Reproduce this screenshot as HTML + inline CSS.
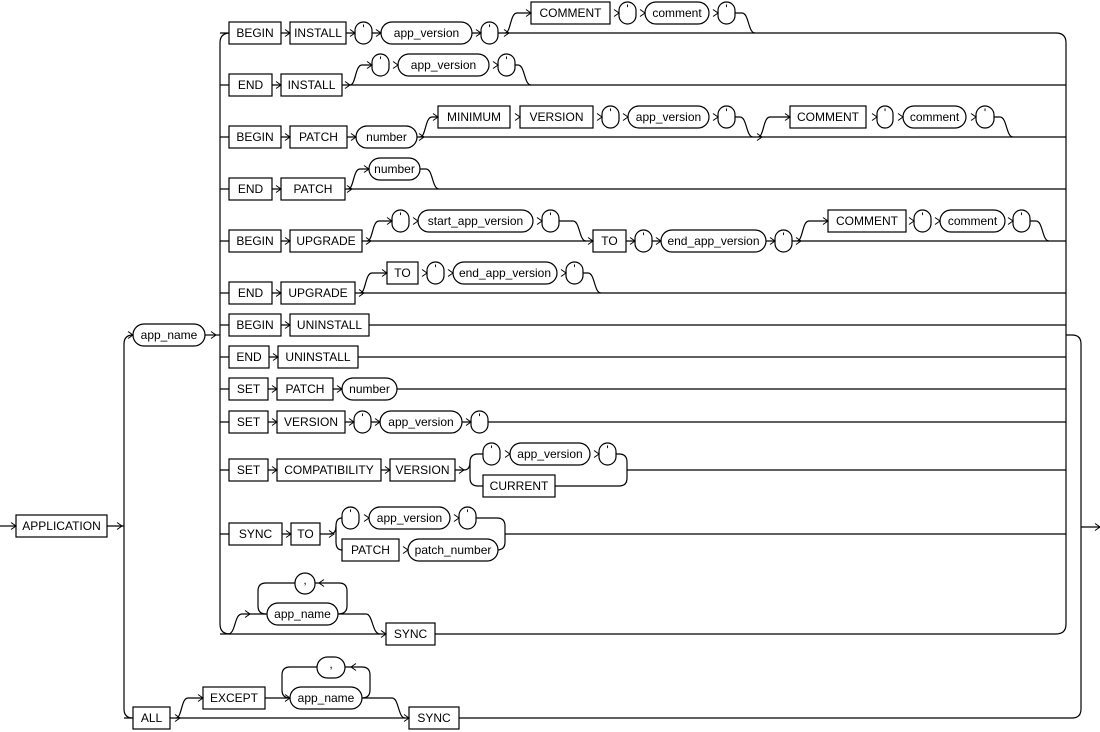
<!DOCTYPE html>
<html><head><meta charset="utf-8"><style>
html,body{margin:0;padding:0;background:#fff;}
svg{display:block;}
text{font-family:"Liberation Sans",sans-serif;font-size:12px;text-anchor:middle;fill:#000;}
</style></head><body>
<svg width="1100" height="732" viewBox="0 0 1100 732" xmlns="http://www.w3.org/2000/svg">
<defs>
<path id="c" d="M-5,-3.5 L0,0 L-5,3.5" fill="none" stroke="#000" stroke-width="1"/>
</defs>
<g fill="none" stroke="#000" stroke-width="1.2">
<!-- entry -->
<path d="M0,526 H16"/>
<path d="M107,526 H124"/>
<!-- outer left bus -->
<path d="M133,335 Q124,335 124,344 V709 Q124,718 133,718"/>
<path d="M205,335 H220"/>
<!-- inner left bus -->
<path d="M230,33 Q220,33 220,43 V624 Q220,634 230,634"/>
<!-- inner right bus -->
<path d="M1056,33 Q1066,33 1066,43 V624 Q1066,634 1056,634"/>
<path d="M1066,335 H1072 Q1081,335 1081,344 V709 Q1081,718 1072,718"/>
<path d="M1081,527 H1100"/>
<!-- row lines -->
<path d="M220,33 H1056"/>
<path d="M220,85 H1066"/>
<path d="M220,137 H1066"/>
<path d="M220,189 H1066"/>
<path d="M220,241 H1066"/>
<path d="M220,293 H1066"/>
<path d="M220,325 H1066"/>
<path d="M220,357 H1066"/>
<path d="M220,389 H1066"/>
<path d="M220,422 H1066"/>
<path d="M220,470 H464"/>
<path d="M627,470 H1066"/>
<path d="M220,534 H332"/>
<path d="M505,534 H1066"/>
<path d="M220,634 H1056"/>
<path d="M124,718 H1072"/>
<!-- row1 optional -->
<path d="M505,33 C511,33 510,13 517,13 H531"/>
<path d="M735,13 H742 C749,13 748,33 755,33"/>
<!-- row2 optional -->
<path d="M350,85 C356,85 355,65 362,65 H372"/>
<path d="M515,65 H518 C525,65 524,85 531,85"/>
<!-- row3 optional -->
<path d="M420,137 C426,137 425,117 432,117 H438"/>
<path d="M735,117 H740 C747,117 746,137 753,137"/>
<path d="M758,137 C764,137 763,117 770,117 H790"/>
<path d="M994,117 H1000 C1007,117 1006,137 1013,137"/>
<!-- row4 optional -->
<path d="M348,189 C354,189 353,169 360,169 H369"/>
<path d="M420,169 H426 C433,169 432,189 439,189"/>
<!-- row5 optional -->
<path d="M367,241 C373,241 372,221 379,221 H392"/>
<path d="M559,221 H573 C580,221 579,241 586,241"/>
<path d="M797,241 C803,241 802,221 809,221 H828"/>
<path d="M1030,221 H1036 C1043,221 1042,241 1049,241"/>
<!-- row6 optional -->
<path d="M360,293 C366,293 365,273 372,273 H387"/>
<path d="M583,273 H588 C595,273 594,293 601,293"/>
<!-- row11 choice -->
<path d="M464,470 Q470,470 470,462 Q470,454 478,454 H483"/>
<path d="M470,462 V478 Q470,486 478,486 H483"/>
<path d="M616,454 H619 Q627,454 627,462 V478 Q627,486 619,486 H555"/>
<!-- row12 choice -->
<path d="M330,534 Q336,534 336,526 Q336,518 342,518"/>
<path d="M336,526 V542 Q336,550 342,550"/>
<path d="M476,518 H497 Q505,518 505,526 V542 Q505,550 497,550"/>
<!-- row13 loop -->
<path d="M228,634 C236,634 234,614 242,614 H267"/>
<path d="M338,614 H366 C373,614 372,634 380,634"/>
<path d="M338,614 Q347,614 347,606 V591 Q347,583 339,583 H315"/>
<path d="M295,583 H266 Q258,583 258,591 V606 Q258,614 266,614"/>
<!-- ALL optional -->
<path d="M176,718 C182,718 181,698 188,698 H203"/>
<path d="M265,698 H290"/>
<path d="M362,698 H392 C399,698 398,718 405,718"/>
<path d="M362,698 Q370,698 370,690 V675 Q370,667 362,667 H345"/>
<path d="M317,667 H290 Q282,667 282,675 V690 Q282,698 290,698"/>
</g>
<!-- nodes -->
<g fill="#fff" stroke="#000" stroke-width="1.2">
<rect x="16" y="515" width="91" height="22"/>
<rect x="133" y="324" width="72" height="22" rx="11"/>
<!-- row1 -->
<rect x="229" y="22" width="52" height="22"/>
<rect x="290" y="22" width="56" height="22"/>
<rect x="355" y="22" width="17" height="22" rx="8.5"/>
<rect x="381" y="22" width="91" height="22" rx="11"/>
<rect x="481" y="22" width="17" height="22" rx="8.5"/>
<rect x="531" y="2" width="79" height="22"/>
<rect x="619" y="2" width="17" height="22" rx="8.5"/>
<rect x="645" y="2" width="64" height="22" rx="11"/>
<rect x="718" y="2" width="17" height="22" rx="8.5"/>
<!-- row2 -->
<rect x="229" y="74" width="43" height="22"/>
<rect x="281" y="74" width="61" height="22"/>
<rect x="372" y="54" width="17" height="22" rx="8.5"/>
<rect x="398" y="54" width="91" height="22" rx="11"/>
<rect x="498" y="54" width="17" height="22" rx="8.5"/>
<!-- row3 -->
<rect x="229" y="126" width="52" height="22"/>
<rect x="290" y="126" width="57" height="22"/>
<rect x="356" y="126" width="61" height="22" rx="11"/>
<rect x="438" y="106" width="72" height="22"/>
<rect x="520" y="106" width="73" height="22"/>
<rect x="602" y="106" width="17" height="22" rx="8.5"/>
<rect x="628" y="106" width="81" height="22" rx="11"/>
<rect x="718" y="106" width="17" height="22" rx="8.5"/>
<rect x="790" y="106" width="76" height="22"/>
<rect x="877" y="106" width="16" height="22" rx="8"/>
<rect x="903" y="106" width="63" height="22" rx="11"/>
<rect x="976" y="106" width="18" height="22" rx="9"/>
<!-- row4 -->
<rect x="229" y="178" width="43" height="22"/>
<rect x="281" y="178" width="64" height="22"/>
<rect x="369" y="158" width="51" height="22" rx="11"/>
<!-- row5 -->
<rect x="229" y="230" width="52" height="22"/>
<rect x="290" y="230" width="72" height="22"/>
<rect x="392" y="210" width="17" height="22" rx="8.5"/>
<rect x="418" y="210" width="115" height="22" rx="11"/>
<rect x="542" y="210" width="17" height="22" rx="8.5"/>
<rect x="593" y="230" width="33" height="22"/>
<rect x="635" y="230" width="17" height="22" rx="8.5"/>
<rect x="661" y="230" width="105" height="22" rx="11"/>
<rect x="775" y="230" width="17" height="22" rx="8.5"/>
<rect x="828" y="210" width="78" height="22"/>
<rect x="914" y="210" width="17" height="22" rx="8.5"/>
<rect x="940" y="210" width="65" height="22" rx="11"/>
<rect x="1013" y="210" width="17" height="22" rx="8.5"/>
<!-- row6 -->
<rect x="229" y="282" width="43" height="22"/>
<rect x="281" y="282" width="74" height="22"/>
<rect x="387" y="262" width="31" height="22"/>
<rect x="427" y="262" width="17" height="22" rx="8.5"/>
<rect x="453" y="262" width="104" height="22" rx="11"/>
<rect x="566" y="262" width="17" height="22" rx="8.5"/>
<!-- row7-8 -->
<rect x="229" y="314" width="52" height="22"/>
<rect x="290" y="314" width="79" height="22"/>
<rect x="229" y="346" width="40" height="22"/>
<rect x="278" y="346" width="80" height="22"/>
<!-- row9 -->
<rect x="229" y="378" width="39" height="22"/>
<rect x="277" y="378" width="56" height="22"/>
<rect x="342" y="378" width="55" height="22" rx="11"/>
<!-- row10 -->
<rect x="229" y="411" width="39" height="22"/>
<rect x="277" y="411" width="68" height="22"/>
<rect x="354" y="411" width="17" height="22" rx="8.5"/>
<rect x="380" y="411" width="82" height="22" rx="11"/>
<rect x="471" y="411" width="17" height="22" rx="8.5"/>
<!-- row11 -->
<rect x="229" y="459" width="39" height="22"/>
<rect x="277" y="459" width="104" height="22"/>
<rect x="390" y="459" width="65" height="22"/>
<rect x="483" y="443" width="17" height="22" rx="8.5"/>
<rect x="510" y="443" width="80" height="22" rx="11"/>
<rect x="599" y="443" width="17" height="22" rx="8.5"/>
<rect x="483" y="475" width="72" height="22"/>
<!-- row12 -->
<rect x="229" y="523" width="53" height="22"/>
<rect x="291" y="523" width="29" height="22"/>
<rect x="342" y="507" width="17" height="22" rx="8.5"/>
<rect x="369" y="507" width="81" height="22" rx="11"/>
<rect x="459" y="507" width="17" height="22" rx="8.5"/>
<rect x="342" y="539" width="57" height="22"/>
<rect x="408" y="539" width="90" height="22" rx="11"/>
<!-- row13 -->
<rect x="267" y="603" width="71" height="22" rx="11"/>
<rect x="295" y="573" width="20" height="21" rx="10"/>
<rect x="386" y="623" width="49" height="22"/>
<!-- ALL -->
<rect x="133" y="707" width="37" height="22"/>
<rect x="203" y="687" width="62" height="22"/>
<rect x="290" y="687" width="72" height="22" rx="11"/>
<rect x="317" y="657" width="28" height="21" rx="10.5"/>
<rect x="409" y="707" width="50" height="22"/>
</g>
<!-- chevrons -->
<g>
<use href="#c" x="16" y="526"/><use href="#c" x="122" y="526"/><use href="#c" x="133" y="335"/><use href="#c" x="216" y="335"/>
<use href="#c" x="290" y="33"/><use href="#c" x="355" y="33"/><use href="#c" x="381" y="33"/><use href="#c" x="481" y="33"/><use href="#c" x="509" y="33"/>
<use href="#c" x="531" y="13"/><use href="#c" x="619" y="13"/><use href="#c" x="645" y="13"/><use href="#c" x="718" y="13"/>
<use href="#c" x="281" y="85"/><use href="#c" x="350" y="85"/><use href="#c" x="372" y="65"/><use href="#c" x="398" y="65"/><use href="#c" x="498" y="65"/>
<use href="#c" x="290" y="137"/><use href="#c" x="356" y="137"/><use href="#c" x="424" y="137"/><use href="#c" x="438" y="117"/><use href="#c" x="520" y="117"/><use href="#c" x="602" y="117"/><use href="#c" x="628" y="117"/><use href="#c" x="718" y="117"/><use href="#c" x="762" y="137"/><use href="#c" x="790" y="117"/><use href="#c" x="877" y="117"/><use href="#c" x="903" y="117"/><use href="#c" x="976" y="117"/>
<use href="#c" x="281" y="189"/><use href="#c" x="352" y="189"/><use href="#c" x="369" y="169"/>
<use href="#c" x="290" y="241"/><use href="#c" x="371" y="241"/><use href="#c" x="392" y="221"/><use href="#c" x="418" y="221"/><use href="#c" x="542" y="221"/><use href="#c" x="593" y="241"/><use href="#c" x="635" y="241"/><use href="#c" x="661" y="241"/><use href="#c" x="775" y="241"/><use href="#c" x="801" y="241"/><use href="#c" x="828" y="221"/><use href="#c" x="914" y="221"/><use href="#c" x="940" y="221"/><use href="#c" x="1013" y="221"/>
<use href="#c" x="281" y="293"/><use href="#c" x="364" y="293"/><use href="#c" x="387" y="273"/><use href="#c" x="427" y="273"/><use href="#c" x="453" y="273"/><use href="#c" x="566" y="273"/>
<use href="#c" x="290" y="325"/><use href="#c" x="278" y="357"/>
<use href="#c" x="277" y="389"/><use href="#c" x="342" y="389"/>
<use href="#c" x="277" y="422"/><use href="#c" x="354" y="422"/><use href="#c" x="380" y="422"/><use href="#c" x="471" y="422"/>
<use href="#c" x="277" y="470"/><use href="#c" x="390" y="470"/><use href="#c" x="464" y="470"/><use href="#c" x="510" y="454"/><use href="#c" x="599" y="454"/>
<use href="#c" x="291" y="534"/><use href="#c" x="334" y="534"/><use href="#c" x="369" y="518"/><use href="#c" x="459" y="518"/><use href="#c" x="408" y="550"/>
<use href="#c" x="250" y="614"/><use href="#c" x="386" y="634"/>
<use href="#c" x="180" y="718"/><use href="#c" x="203" y="698"/><use href="#c" x="290" y="698"/><use href="#c" x="409" y="718"/>
<use href="#c" x="1100" y="527"/>
</g>
<path d="M310,579.5 L315,583 L310,586.5" fill="none" stroke="#000" transform="rotate(180 317 583)"/>
<path d="M340,663.5 L345,667 L340,670.5" fill="none" stroke="#000" transform="rotate(180 348 667)"/>
<!-- labels -->
<g>
<text x="61.5" y="530">APPLICATION</text>
<text x="169" y="339">app_name</text>
<text x="255" y="37">BEGIN</text><text x="318" y="37">INSTALL</text><text x="363.5" y="33">'</text><text x="426.5" y="37">app_version</text><text x="489.5" y="33">'</text>
<text x="570.5" y="17">COMMENT</text><text x="627.5" y="13">'</text><text x="677" y="17">comment</text><text x="726.5" y="13">'</text>
<text x="250.5" y="89">END</text><text x="311.5" y="89">INSTALL</text><text x="380.5" y="65">'</text><text x="443.5" y="69">app_version</text><text x="506.5" y="65">'</text>
<text x="255" y="141">BEGIN</text><text x="318.5" y="141">PATCH</text><text x="386.5" y="141">number</text><text x="474" y="121">MINIMUM</text><text x="556.5" y="121">VERSION</text><text x="610.5" y="117">'</text><text x="668.5" y="121">app_version</text><text x="726.5" y="117">'</text>
<text x="828" y="121">COMMENT</text><text x="885" y="117">'</text><text x="934.5" y="121">comment</text><text x="985" y="117">'</text>
<text x="250.5" y="193">END</text><text x="313" y="193">PATCH</text><text x="394.5" y="173">number</text>
<text x="255" y="245">BEGIN</text><text x="326" y="245">UPGRADE</text><text x="400.5" y="221">'</text><text x="475.5" y="225">start_app_version</text><text x="550.5" y="221">'</text>
<text x="609.5" y="245">TO</text><text x="643.5" y="241">'</text><text x="713.5" y="245">end_app_version</text><text x="783.5" y="241">'</text>
<text x="867" y="225">COMMENT</text><text x="922.5" y="221">'</text><text x="972.5" y="225">comment</text><text x="1021.5" y="221">'</text>
<text x="250.5" y="297">END</text><text x="318" y="297">UPGRADE</text><text x="402.5" y="277">TO</text><text x="435.5" y="273">'</text><text x="505" y="277">end_app_version</text><text x="574.5" y="273">'</text>
<text x="255" y="329">BEGIN</text><text x="329.5" y="329">UNINSTALL</text>
<text x="249" y="361">END</text><text x="318" y="361">UNINSTALL</text>
<text x="248.5" y="393">SET</text><text x="305" y="393">PATCH</text><text x="369.5" y="393">number</text>
<text x="248.5" y="426">SET</text><text x="311" y="426">VERSION</text><text x="362.5" y="422">'</text><text x="421" y="426">app_version</text><text x="479.5" y="422">'</text>
<text x="248.5" y="474">SET</text><text x="329" y="474">COMPATIBILITY</text><text x="422.5" y="474">VERSION</text><text x="491.5" y="454">'</text><text x="550" y="458">app_version</text><text x="607.5" y="454">'</text><text x="519" y="490">CURRENT</text>
<text x="255.5" y="538">SYNC</text><text x="305.5" y="538">TO</text><text x="350.5" y="518">'</text><text x="409.5" y="522">app_version</text><text x="467.5" y="518">'</text><text x="370.5" y="554">PATCH</text><text x="453" y="554">patch_number</text>
<text x="302.5" y="618">app_name</text><text x="305" y="584">,</text><text x="410.5" y="638">SYNC</text>
<text x="151.5" y="722">ALL</text><text x="234" y="702">EXCEPT</text><text x="326" y="702">app_name</text><text x="331" y="668">,</text><text x="434" y="722">SYNC</text>
</g>
</svg>
</body></html>
